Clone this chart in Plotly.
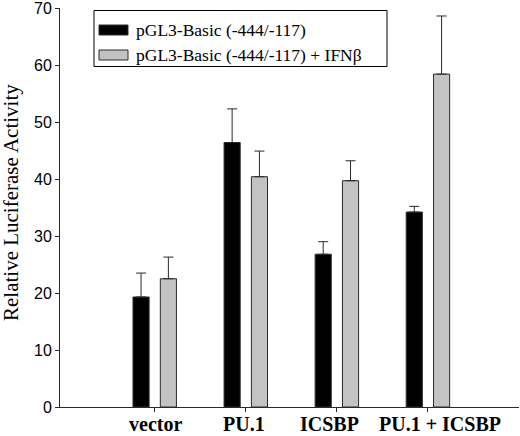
import plotly.graph_objects as go

# Luciferase reporter data
categories = ["vector", "PU.1", "ICSBP", "PU.1 + ICSBP"]
basic = [19.3, 46.4, 26.8, 34.2]
basic_err = [4.2, 5.9, 2.2, 1.0]
basic_ifn = [22.5, 40.4, 39.7, 58.4]
basic_ifn_err = [3.8, 4.5, 3.5, 10.2]
y_ticks = [0, 10, 20, 30, 40, 50, 60, 70]
names = ["pGL3-Basic (-444/-117)", "pGL3-Basic (-444/-117) + IFNβ"]
colors = ["black", "#c3c3c3"]
y_title = "Relative Luciferase Activity"

edge = "#2a2a2a"
W, H = 520, 436
L, R, T, B = 60, 1, 8, 29
label_shift = [1, -2, -7, 12]  # original labels sit a little off their ticks


def px_x(v):
    # pixel -> paper x
    return (v - L) / (W - L - R)


def px_y(v):
    # pixel -> paper y
    return (H - B - v) / (H - T - B)


fig = go.Figure()
for name, vals, errs, col in zip(names, [basic, basic_ifn],
                                 [basic_err, basic_ifn_err], colors):
    fig.add_trace(go.Bar(
        x=categories, y=vals, name=name,
        marker=dict(color=col, line=dict(color=edge, width=1)),
        error_y=dict(type="data", array=errs, arrayminus=[0] * len(errs),
                     symmetric=False, color=edge, thickness=1, width=5),
    ))

# hand-drawn legend box to get the wide swatches of the original
shapes = [dict(type="rect", xref="paper", yref="paper",
               x0=px_x(94), x1=px_x(387), y0=px_y(66.5), y1=px_y(10.5),
               line=dict(color="black", width=1), fillcolor="white")]
annotations = []
for i, (name, col) in enumerate(zip(names, colors)):
    cy = 30 + 25 * i
    shapes.append(dict(type="rect", xref="paper", yref="paper",
                       x0=px_x(99), x1=px_x(128), y0=px_y(cy + 5), y1=px_y(cy - 5),
                       line=dict(color=edge, width=1), fillcolor=col))
    annotations.append(dict(xref="paper", yref="paper", x=px_x(134), y=px_y(cy),
                            xanchor="left", yanchor="middle", showarrow=False,
                            text=name,
                            font=dict(family="Liberation Serif", size=17.5,
                                      color="black")))

# category labels as annotations so each can be nudged like the original
for cat, dx in zip(categories, label_shift):
    annotations.append(dict(xref="x", yref="paper", x=cat, y=px_y(423.5),
                            xanchor="center", yanchor="middle", xshift=dx,
                            showarrow=False, text="<b>%s</b>" % cat,
                            font=dict(family="Liberation Serif", size=20,
                                      color="black")))

# y axis title
annotations.append(dict(xref="paper", yref="paper", x=px_x(11), y=px_y(203),
                        xanchor="center", yanchor="middle", textangle=-90,
                        showarrow=False, text=y_title,
                        font=dict(family="Liberation Serif", size=21,
                                  color="black")))

fig.update_layout(
    width=W, height=H,
    margin=dict(l=L, r=R, t=T, b=B),
    paper_bgcolor="white", plot_bgcolor="white",
    barmode="group", bargap=0.4, bargroupgap=0.41,
    showlegend=False,
    shapes=shapes, annotations=annotations,
    xaxis=dict(
        type="category", range=[-1.04, 4.0],
        showline=True, linecolor=edge, linewidth=1,
        ticks="outside", ticklen=4, tickcolor=edge,
        showticklabels=False, automargin=False,
        showgrid=False, zeroline=False,
    ),
    yaxis=dict(
        range=[0, 70], tickvals=y_ticks,
        showline=True, linecolor=edge, linewidth=1,
        ticks="outside", ticklen=4, tickcolor=edge,
        ticklabeloverflow="allow", automargin=False,
        tickfont=dict(family="Liberation Sans", size=16, color="black"),
        showgrid=False, zeroline=False,
    ),
)

fig.write_html(
    "out.html",
    config={"displayModeBar": False},
    post_script="document.body.style.margin='0';"
                "document.body.style.overflow='hidden';",
)
